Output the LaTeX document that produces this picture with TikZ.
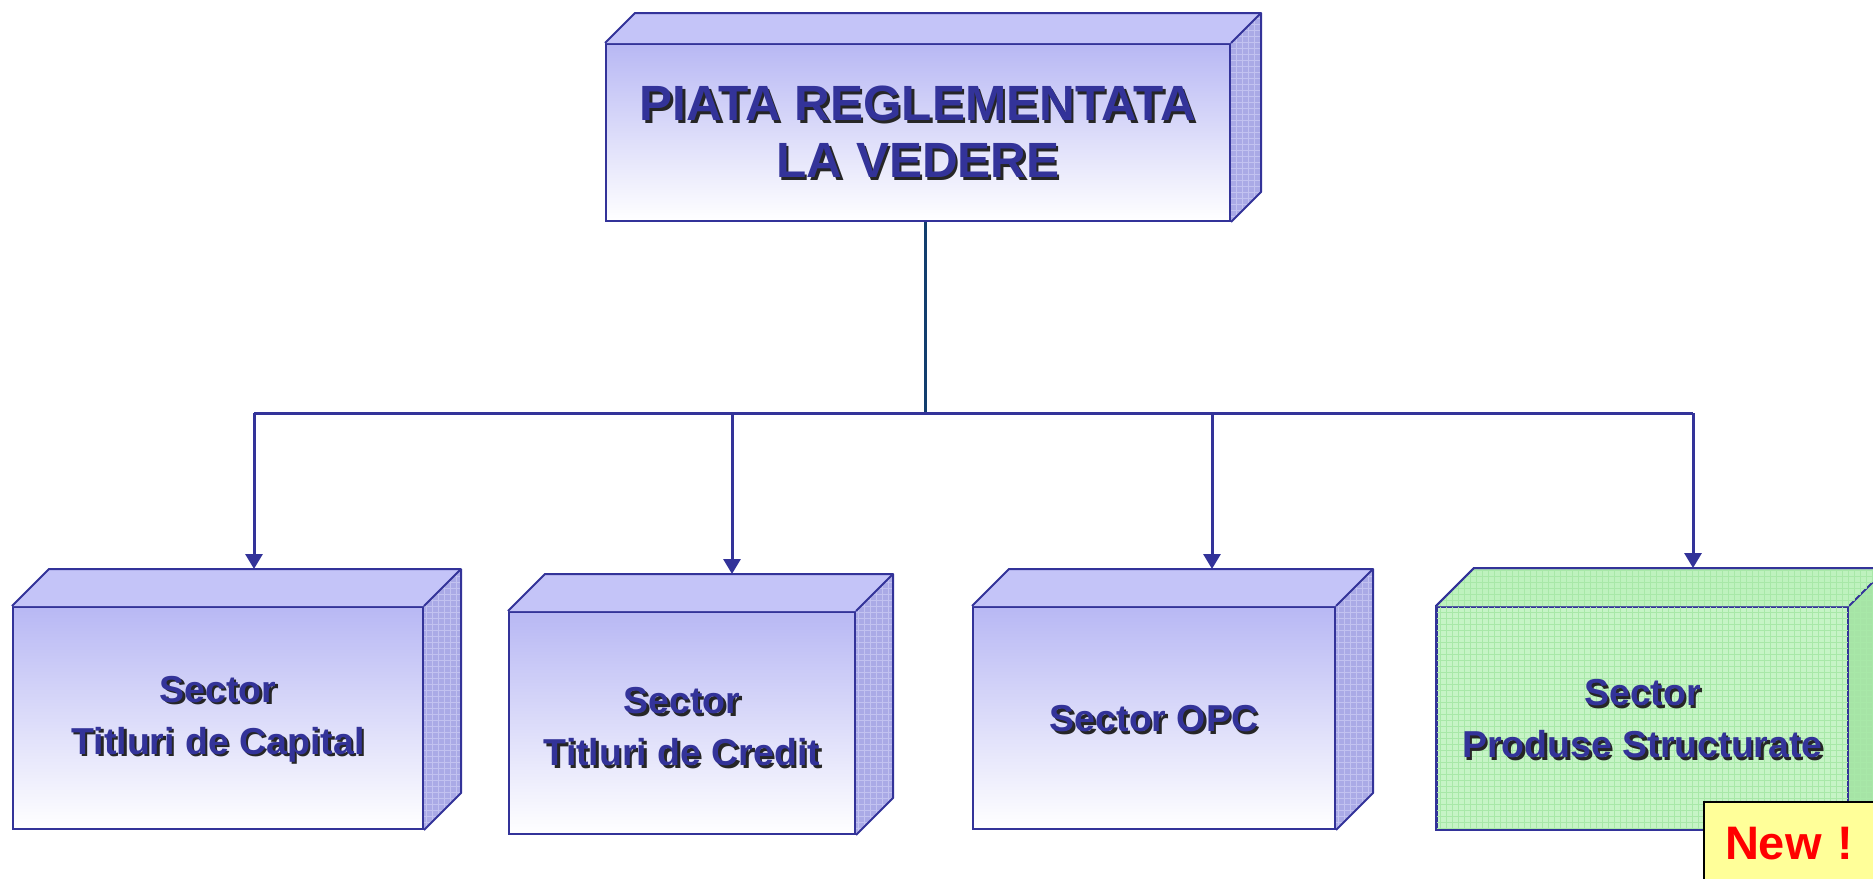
\documentclass[tikz,border=0pt]{standalone}
\usepackage{fontspec}
\setmainfont{Liberation Sans}
\usetikzlibrary{calc,arrows.meta}
\definecolor{navy}{HTML}{333399}
\definecolor{stem}{HTML}{123E6E}
\definecolor{topblue}{HTML}{C4C4F8}
\definecolor{frontblue}{HTML}{B8B8F4}
\definecolor{sideblue}{HTML}{AAAAE6}
\definecolor{gridblue}{HTML}{C2C2F0}
\definecolor{greenfront}{HTML}{C6F4C6}
\definecolor{greentop}{HTML}{BEF2BE}
\definecolor{greenside}{HTML}{A6E4A6}
\definecolor{gridgreen}{HTML}{A8E8A8}
\definecolor{newyellow}{HTML}{FFFF99}
\definecolor{newred}{HTML}{FF0000}
\tikzset{
  frontbox/.style={draw=navy, line width=2pt, inner sep=0pt, align=center,
     top color=frontblue, bottom color=white},
  greenbox/.style={draw=navy, line width=2pt, inner sep=0pt, align=center,
     fill=greenfront},
  facedraw/.style={draw=navy, line width=2pt, line join=round},
  link/.style={draw=navy, line width=3pt},
  arr/.style={draw=navy, line width=3pt, -{Triangle[length=15pt,width=17pt]}},
}
% shadowed label: #1 position, #2 font, #3 text, #4 name
\newcommand{\shlabel}[4]{%
  \node[align=center, font=#2, text=black!85, inner sep=0pt] at ($(#1)+(2.4,2.4)$) {#3};
  \node[align=center, font=#2, text=navy, inner sep=0pt] (#4) at (#1) {#3};}
% cube faces: #1 node, #2 top colour, #3 side colour, #4 grid colour, #5 depth
\newcommand{\cubefaces}[5]{%
  \fill[#2] (#1.north west) -- ++(#5,-#5) -- ($(#1.north east)+(#5,-#5)$) -- (#1.north east) -- cycle;
  \fill[#3] (#1.north east) -- ++(#5,-#5) -- ($(#1.south east)+(#5,-#5)$) -- (#1.south east) -- cycle;
  \begin{scope}
    \clip (#1.north east) -- ++(#5,-#5) -- ($(#1.south east)+(#5,-#5)$) -- (#1.south east) -- cycle;
    \draw[#4, line width=0.5pt] ($(#1.north east)+(0,-50)$) grid[step=6pt] ($(#1.south east)+(45,0)$);
  \end{scope}
  \draw[facedraw] (#1.north west) -- ++(#5,-#5) -- ($(#1.north east)+(#5,-#5)$) -- ($(#1.south east)+(#5,-#5)$) -- (#1.south east);
  \draw[facedraw] (#1.north east) -- ++(#5,-#5);
  \coordinate (#1back) at ($(#1.north)+(#5,-#5)$);}
\begin{document}
\begin{tikzpicture}[x=1pt,y=-1pt]
\useasboundingbox (0,0) rectangle (1873,878);
\clip (0,0) rectangle (1873,878);

% ---------- top box ----------
\node[frontbox, minimum width=624pt, minimum height=177pt] (top) at (918,132.5) {};
\cubefaces{top}{topblue}{sideblue}{gridblue}{30}
\shlabel{918,132}{\bfseries\fontsize{49.5}{57}\selectfont}{PIATA REGLEMENTATA\\LA VEDERE}{toptxt}

% ---------- bottom boxes ----------
\node[frontbox, minimum width=410pt, minimum height=222pt] (b1) at (218,718) {};
\cubefaces{b1}{topblue}{sideblue}{gridblue}{37}
\shlabel{218,719}{\bfseries\fontsize{37.5}{52}\selectfont}{Sector\\Titluri de Capital}{t1}

\node[frontbox, minimum width=346pt, minimum height=222pt] (b2) at (682,723) {};
\cubefaces{b2}{topblue}{sideblue}{gridblue}{37}
\shlabel{682,727}{\bfseries\fontsize{37.5}{52}\selectfont}{Sector\\Titluri de Credit}{t2}

\node[frontbox, minimum width=362pt, minimum height=222pt] (b3) at (1154,718) {};
\cubefaces{b3}{topblue}{sideblue}{gridblue}{37}
\shlabel{1154,719}{\bfseries\fontsize{37.5}{52}\selectfont}{Sector OPC}{t3}

\node[greenbox, minimum width=411pt, minimum height=222pt] (b4) at (1642.5,718) {};
\begin{scope}
  \clip (b4.north west) rectangle (b4.south east);
  \draw[gridgreen, line width=0.5pt] (b4.north west) grid[step=6pt] (b4.south east);
\end{scope}
\draw[navy, line width=2pt] (b4.north west) rectangle (b4.south east);
\cubefaces{b4}{greentop}{greenside}{gridgreen}{38}
\begin{scope}
  \clip (b4.north west) -- ++(38,-38) -- ($(b4.north east)+(38,-38)$) -- (b4.north east) -- cycle;
  \draw[gridgreen, line width=0.5pt] ($(b4.north west)+(0,-40)$) grid[step=6pt] ($(b4.north east)+(40,0)$);
\end{scope}
\draw[facedraw] (b4.north west) -- ++(38,-38) -- ($(b4.north east)+(38,-38)$);
\shlabel{1642.5,719}{\bfseries\fontsize{37.5}{52}\selectfont}{Sector\\Produse Structurate}{t4}

% ---------- connectors ----------
\coordinate (junc) at (925,413);
\coordinate (d1) at (254,413);
\coordinate (d2) at (732,413);
\coordinate (d3) at (1212,413);
\coordinate (d4) at (1693,413);
\draw[stem, line width=3pt] (top.south -| junc) -- (junc);
\draw[link] (d1) -- (d4);
\draw[arr] (d1) -- (d1 |- b1back);
\draw[arr] (d2) -- (d2 |- b2back);
\draw[arr] (d3) -- (d3 |- b3back);
\draw[arr] (d4) -- (d4 |- b4back);

% ---------- New ! ----------
\node[draw=black, line width=2pt, fill=newyellow, minimum width=170pt, minimum height=84pt,
      inner sep=0pt, text=newred, font=\bfseries\fontsize{47}{50}\selectfont] (new) at (1789,844) {New\,\,!};
\end{tikzpicture}
\end{document}
